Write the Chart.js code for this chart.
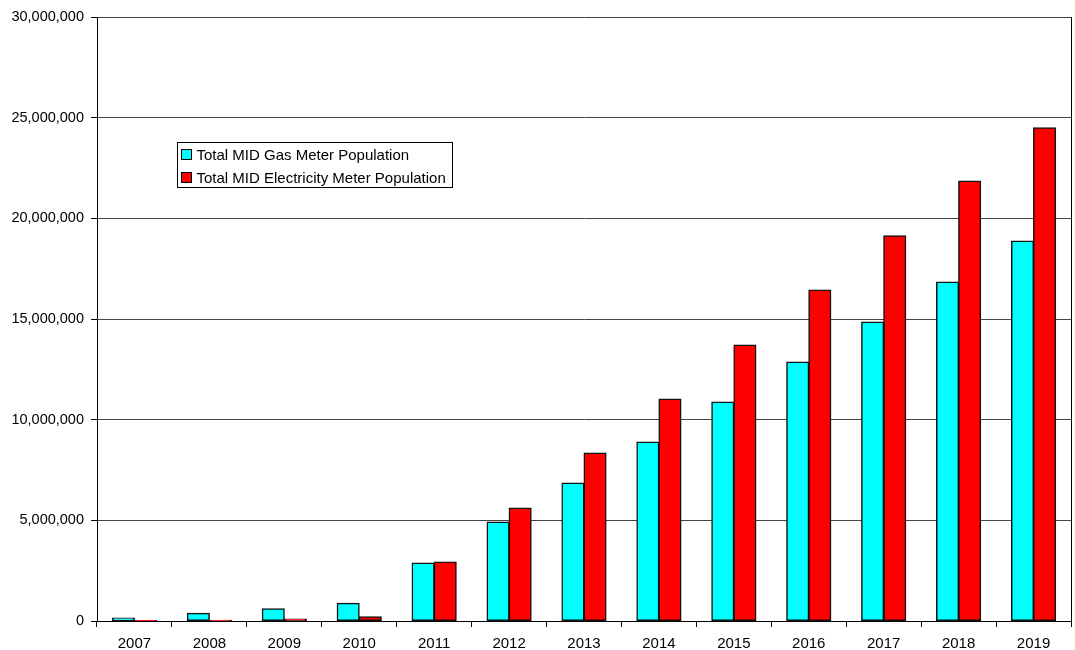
<!DOCTYPE html>
<html>
<head>
<meta charset="utf-8">
<script src="https://cdn.jsdelivr.net/npm/chart.js@4.4.1/dist/chart.umd.min.js"></script>
<style>
  html, body { margin: 0; padding: 0; background: #fff; }
  #wrap { width: 1075px; height: 650px; }
</style>
</head>
<body>
<div id="wrap"><canvas id="meters"></canvas></div>
<script>
const years = ['2007', '2008', '2009', '2010', '2011', '2012', '2013', '2014', '2015', '2016', '2017', '2018', '2019'];
const gasMeters = [150000, 380000, 610000, 880000, 2880000, 4920000, 6860000, 8890000, 10880000, 12870000, 14850000, 16840000, 18880000];
const elecMeters = [20000, 40000, 100000, 210000, 2930000, 5610000, 8350000, 11030000, 13710000, 16440000, 19130000, 21860000, 24500000];
const seriesNames = ['Total MID Gas Meter Population', 'Total MID Electricity Meter Population'];
const yTicks = [0, 5000000, 10000000, 15000000, 20000000, 25000000, 30000000];

const FONT = 'Liberation Sans, Arial, sans-serif';

// boxed legend sitting inside the plot, plus the right-hand border of the plot
const boxLegend = {
    id: 'boxLegend',
    afterDraw(chart) {
        const ctx = chart.ctx;
        const area = chart.chartArea;
        ctx.save();
        ctx.strokeStyle = '#000';
        ctx.lineWidth = 1;
        ctx.beginPath();
        ctx.moveTo(Math.round(area.right) + 0.5, area.top);
        ctx.lineTo(Math.round(area.right) + 0.5, area.bottom);
        ctx.stroke();

        const x = Math.round(area.left + 80) + 0.5;
        const y = Math.round(area.top + 125) + 0.5;
        ctx.fillStyle = '#fff';
        ctx.fillRect(x, y, 275, 45);
        ctx.strokeRect(x, y, 275, 45);

        ctx.font = '15px ' + FONT;
        ctx.textBaseline = 'middle';
        chart.data.datasets.forEach((ds, i) => {
            const cy = y + 12 + i * 23;
            ctx.fillStyle = ds.backgroundColor;
            ctx.fillRect(x + 4, cy - 5, 10, 10);
            ctx.strokeStyle = '#000';
            ctx.strokeRect(x + 4, cy - 5, 10, 10);
            ctx.fillStyle = '#000';
            ctx.fillText(ds.label, x + 19, cy + 1);
        });
        ctx.restore();
    }
};

new Chart(document.getElementById('meters'), {
    type: 'bar',
    data: {
        labels: years,
        datasets: [
            {
                label: seriesNames[0],
                data: gasMeters,
                backgroundColor: '#00FFFF',
                borderColor: '#111',
                borderWidth: 1.5,
                borderSkipped: false,
                inflateAmount: 0.5
            },
            {
                label: seriesNames[1],
                data: elecMeters,
                backgroundColor: '#FF0000',
                borderColor: '#111',
                borderWidth: 1.5,
                borderSkipped: false,
                inflateAmount: 0.5
            }
        ]
    },
    options: {
        responsive: true,
        maintainAspectRatio: false,
        animation: false,
        categoryPercentage: 0.59,
        barPercentage: 1.0,
        layout: { padding: { top: 17, right: 4, left: 0, bottom: 0 } },
        plugins: {
            legend: { display: false },
            tooltip: { enabled: false }
        },
        scales: {
            x: {
                grid: {
                    offset: true,
                    drawOnChartArea: false,
                    color: '#000',
                    tickLength: 6
                },
                border: { color: '#000', width: 1 },
                ticks: {
                    color: '#000',
                    font: { family: FONT, size: 15 },
                    padding: 8
                },
                afterFit(scale) { scale.height = 29; }
            },
            y: {
                min: 0,
                max: 30000000,
                afterBuildTicks(scale) {
                    scale.ticks = yTicks.map(v => ({ value: v }));
                },
                grid: {
                    color: '#444',
                    tickColor: '#000',
                    tickLength: 6
                },
                border: { color: '#000', width: 1 },
                ticks: {
                    color: '#000',
                    font: { family: FONT, size: 14.5 },
                    padding: 7,
                    callback: v => v.toLocaleString('en-US')
                },
                afterFit(scale) { scale.width = 97; }
            }
        }
    },
    plugins: [boxLegend]
});
</script>
</body>
</html>
